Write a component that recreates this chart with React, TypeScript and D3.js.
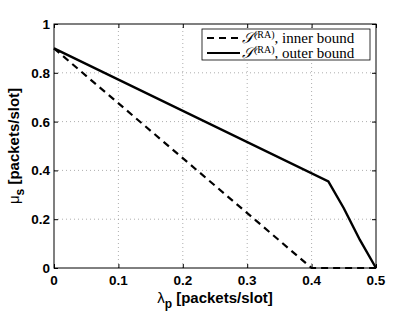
import React, { useEffect, useRef } from "react";
import * as d3 from "d3";

const xTicks = [0, 0.1, 0.2, 0.3, 0.4, 0.5];
const yTicks = [0, 0.2, 0.4, 0.6, 0.8, 1];

const innerX = [0, 0.4, 0.5];
const innerY = [0.9, 0, 0];

const outerX = [0, 0.426, 0.45, 0.475, 0.5];
const outerY = [0.9, 0.355, 0.245, 0.115, 0];

const legendLabels = ["inner bound", "outer bound"];

export default function App() {
  const svgRef = useRef<SVGSVGElement>(null);
  const width = 415;
  const height = 314;
  const pad = { left: 54, right: 39, top: 24, bottom: 46 };

  useEffect(() => {
    const svgEl = d3.select(svgRef.current);
    svgEl.selectAll("*").remove();
    const svg = svgEl.append("g");

    const x = d3.scaleLinear().domain([0, 0.5]).range([pad.left, width - pad.right]);
    const y = d3.scaleLinear().domain([0, 1]).range([height - pad.bottom, pad.top]);

    svg.append("rect")
      .attr("x", pad.left).attr("y", pad.top)
      .attr("width", x(0.5) - x(0)).attr("height", y(0) - y(1))
      .attr("fill", "white");

    // grid
    svg.selectAll(".gx").data(xTicks.slice(1, -1)).enter().append("line")
      .attr("x1", d => x(d)).attr("x2", d => x(d))
      .attr("y1", y(0)).attr("y2", y(1))
      .attr("stroke", "#999").attr("stroke-width", 0.8).attr("stroke-dasharray", "1,3");
    svg.selectAll(".gy").data(yTicks.slice(1, -1)).enter().append("line")
      .attr("x1", x(0)).attr("x2", x(0.5))
      .attr("y1", d => y(d)).attr("y2", d => y(d))
      .attr("stroke", "#999").attr("stroke-width", 0.8).attr("stroke-dasharray", "1,3");

    // axes with inward ticks, mirrored
    const tickLen = 4;
    const tickFont = "'Liberation Sans', Arial, sans-serif";
    svg.append("g").attr("transform", `translate(0,${y(0)})`)
      .call(d3.axisTop(x).tickValues(xTicks).tickSize(tickLen).tickFormat(() => ""))
      .call(g => g.select(".domain").remove());
    svg.append("g").attr("transform", `translate(0,${y(1)})`)
      .call(d3.axisBottom(x).tickValues(xTicks).tickSize(tickLen).tickFormat(() => ""))
      .call(g => g.select(".domain").remove());
    svg.append("g").attr("transform", `translate(${x(0)},0)`)
      .call(d3.axisRight(y).tickValues(yTicks).tickSize(tickLen).tickFormat(() => ""))
      .call(g => g.select(".domain").remove());
    svg.append("g").attr("transform", `translate(${x(0.5)},0)`)
      .call(d3.axisLeft(y).tickValues(yTicks).tickSize(tickLen).tickFormat(() => ""))
      .call(g => g.select(".domain").remove());

    svg.selectAll(".xl").data(xTicks).enter().append("text")
      .attr("x", d => x(d)).attr("y", y(0) + 17)
      .attr("text-anchor", "middle")
      .attr("font-family", tickFont).attr("font-weight", "bold").attr("font-size", 13.5)
      .text(d => d3.format("")(d));
    svg.selectAll(".yl").data(yTicks).enter().append("text")
      .attr("x", x(0) - 4).attr("y", d => y(d) + 5)
      .attr("text-anchor", "end")
      .attr("font-family", tickFont).attr("font-weight", "bold").attr("font-size", 13.5)
      .text(d => d3.format("")(d));

    // curves
    const line = d3.line<[number, number]>().x(d => x(d[0])).y(d => y(d[1]));
    svg.append("path")
      .attr("d", line(innerX.map((v, i) => [v, innerY[i]] as [number, number])))
      .attr("fill", "none").attr("stroke", "black").attr("stroke-width", 2.2)
      .attr("stroke-dasharray", "7,5");
    svg.append("path")
      .attr("d", line(outerX.map((v, i) => [v, outerY[i]] as [number, number])))
      .attr("fill", "none").attr("stroke", "black").attr("stroke-width", 2.4);

    // box
    svg.append("rect")
      .attr("x", pad.left).attr("y", pad.top)
      .attr("width", x(0.5) - x(0)).attr("height", y(0) - y(1))
      .attr("fill", "none").attr("stroke", "black").attr("stroke-width", 1);

    // axis labels
    const xl = svg.append("text")
      .attr("x", (x(0) + x(0.5)) / 2).attr("y", height - 11)
      .attr("text-anchor", "middle")
      .attr("font-family", tickFont).attr("font-weight", "bold").attr("font-size", 15);
    xl.append("tspan").attr("font-weight", "normal").text("λ");
    xl.append("tspan").attr("dy", 5).attr("font-size", 12).text("p");
    xl.append("tspan").attr("dy", -5).text(" [packets/slot]");

    const yl = svg.append("text")
      .attr("transform", `translate(19,${(y(0) + y(1)) / 2}) rotate(-90)`)
      .attr("text-anchor", "middle")
      .attr("font-family", tickFont).attr("font-weight", "bold").attr("font-size", 15);
    yl.append("tspan").attr("font-weight", "normal").text("μ");
    yl.append("tspan").attr("dy", 5).attr("font-size", 12).text("s");
    yl.append("tspan").attr("dy", -5).text(" [packets/slot]");

    // legend
    const lg = svg.append("g");
    lg.append("rect")
      .attr("x", 202).attr("y", 29).attr("width", 168).attr("height", 31)
      .attr("fill", "white").attr("stroke", "black").attr("stroke-width", 0.8);
    legendLabels.forEach((lab, i) => {
      const cy = 38 + i * 15;
      lg.append("line")
        .attr("x1", 207).attr("x2", 240).attr("y1", cy).attr("y2", cy)
        .attr("stroke", "black").attr("stroke-width", 2.2)
        .attr("stroke-dasharray", i === 0 ? "7,5" : null);
      const t = lg.append("text")
        .attr("x", 242).attr("y", cy + 5)
        .attr("font-family", "'Liberation Serif', 'DejaVu Serif', serif").attr("font-size", 15);
      t.append("tspan").attr("font-style", "italic").text("𝒮");
      t.append("tspan").attr("dy", -5).attr("font-size", 10).text("(RA)");
      t.append("tspan").attr("dy", 5).text(", " + lab);
    });
  }, []);

  return <svg ref={svgRef} width={width} height={height} style={{ display: "block", position: "absolute", left: 0, top: 0 }} />;
}
